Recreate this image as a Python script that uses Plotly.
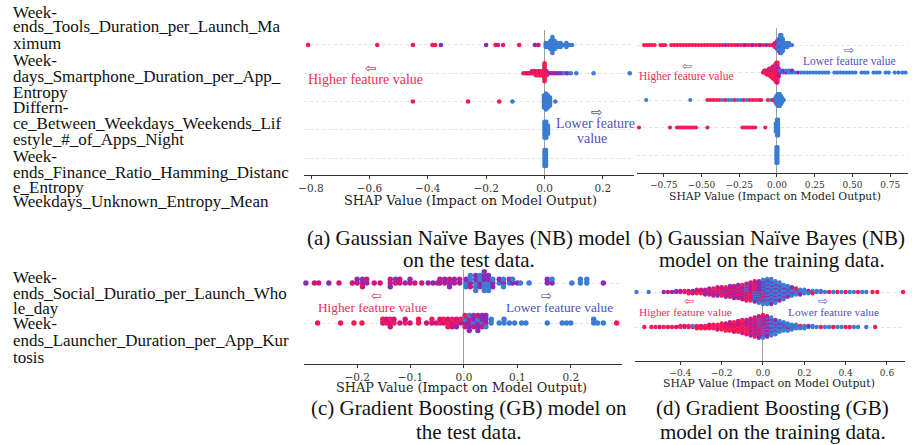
import plotly.graph_objects as go

W, H = 912, 445

# ---------------- colours (feature value: high=red ... low=blue) -------------
COLORS = {'r': '#f71b55', 'm': '#d0157f', 'p': '#8b2ab8', 'b': '#3b7cd4'}

SERIF = "Liberation Serif, Times New Roman, Times, serif"
AXSERIF = "DejaVu Serif, Bitstream Vera Serif, serif"
ARROWF = "DejaVu Sans, sans-serif"

# ---------------- label text ----------------
NB_LABEL_LINES = ["Week-", "ends_Tools_Duration_per_Launch_Ma", "ximum",
                  "Week-", "days_Smartphone_Duration_per_App_", "Entropy",
                  "Differn-", "ce_Between_Weekdays_Weekends_Lif", "estyle_#_of_Apps_Night",
                  "Week-", "ends_Finance_Ratio_Hamming_Distanc", "e_Entropy",
                  "Weekdays_Unknown_Entropy_Mean"]
GB_LABEL_LINES = ["Week-", "ends_Social_Duratio_per_Launch_Who", "le_day",
                  "Week-", "ends_Launcher_Duration_per_App_Kur", "tosis"]

CAPTIONS = [("(a) Gaussian Naïve Bayes (NB) model", "on the test data."),
            ("(b) Gaussian Naïve Bayes (NB)", "model on the training data."),
            ("(c) Gradient Boosting (GB) model on", "the test data."),
            ("(d) Gradient Boosting (GB)", "model on the training data.")]
XTITLE = "SHAP Value (Impact on Model Output)"

A_TICKS = [-0.8, -0.6, -0.4, -0.2, 0.0, 0.2]
B_TICKS = [-0.75, -0.5, -0.25, 0.0, 0.25, 0.5, 0.75]
C_TICKS = [-0.2, -0.1, 0.0, 0.1, 0.2]
D_TICKS = [-0.4, -0.2, 0.0, 0.2, 0.4, 0.6]

# ---------------- SHAP values: (shap value, number of points, colour pattern) --
# (a) NB, test data
A_TOOLS = [(-0.810,1,'r'),(-0.573,1,'r'),(-0.451,1,'r'),(-0.384,1,'r'),(-0.375,1,'r'),(-0.355,1,'p'),
           (-0.200,1,'p'),(-0.168,1,'r'),(-0.160,1,'m'),(-0.142,1,'r'),(-0.087,1,'r'),(-0.033,1,'p'),
           (-0.021,1,'m'),(0.004,3,'pbb'),(0.012,3,'b'),(0.020,5,'b'),(0.027,9,'b'),(0.035,5,'b'),
           (0.045,3,'b'),(0.055,3,'b'),(0.065,1,'b'),(0.075,3,'b'),(0.085,1,'b'),(0.094,1,'b')]
A_SMART = [(-0.072,1,'r'),(-0.064,1,'r'),(-0.057,1,'m'),(-0.050,1,'r'),(-0.043,2,'rm'),(-0.036,2,'r'),
           (-0.029,3,'rm'),(-0.022,3,'r'),(-0.015,3,'rm'),(-0.008,3,'r'),(0.000,10,'r'),(0.007,3,'rm'),
           (0.016,1,'p'),(0.024,1,'p'),(0.032,1,'m'),(0.040,1,'p'),(0.048,1,'p'),(0.058,1,'p'),
           (0.068,1,'b'),(0.078,1,'p'),(0.090,1,'b'),(0.109,1,'b'),(0.168,1,'b'),(0.292,1,'b')]
A_DIFF = [(-0.451,1,'r'),(-0.262,1,'r'),(-0.155,1,'r'),(-0.110,1,'b'),(-0.002,7,'b'),(0.005,9,'b'),
          (0.012,7,'b'),(0.019,5,'b'),(0.037,1,'b')]
A_FIN = [(0.000,9,'b'),(0.006,9,'b'),(0.012,5,'b')]
A_UNK = [(0.000,9,'b'),(0.005,9,'b')]

# (b) NB, training data
B_TOOLS = [(-0.880,1,'r'),(-0.862,1,'r'),(-0.845,1,'r'),(-0.828,1,'r'),(-0.810,1,'r'),
           (-0.772,1,'r'),(-0.755,1,'r'),(-0.740,1,'r'),
           (-0.700,1,'r'),(-0.680,1,'r'),(-0.660,1,'r'),(-0.640,1,'r'),(-0.620,1,'r'),(-0.600,1,'r'),
           (-0.580,1,'r'),(-0.560,1,'r'),(-0.540,1,'r'),(-0.520,1,'r'),(-0.500,1,'r'),(-0.480,1,'r'),
           (-0.460,1,'r'),(-0.440,1,'r'),(-0.420,1,'r'),(-0.400,1,'r'),(-0.380,1,'r'),(-0.360,1,'r'),
           (-0.340,1,'p'),(-0.320,1,'r'),(-0.300,1,'r'),(-0.280,1,'r'),(-0.260,1,'m'),(-0.240,1,'r'),
           (-0.220,1,'r'),(-0.210,1,'p'),(-0.190,1,'r'),(-0.170,1,'r'),(-0.160,1,'p'),(-0.140,1,'r'),
           (-0.120,1,'r'),(-0.110,1,'p'),(-0.090,1,'r'),(-0.070,1,'p'),(-0.050,1,'r'),(-0.030,1,'m'),
           (-0.015,3,'rmr'),(0.000,5,'mpb'),(0.010,7,'b'),(0.020,10,'bbp'),(0.030,10,'b'),(0.040,7,'b'),
           (0.050,3,'b'),(0.060,3,'b'),(0.070,3,'b'),(0.080,2,'b'),(0.090,1,'b'),(0.100,1,'b')]
B_SMART = [(-0.947,1,'b'),
           (-0.092,1,'m'),(-0.084,2,'rm'),(-0.076,2,'r'),(-0.068,3,'rm'),(-0.060,3,'r'),(-0.052,4,'rm'),
           (-0.044,5,'r'),(-0.036,5,'rm'),(-0.028,7,'r'),(-0.020,7,'rm'),(-0.012,9,'r'),(-0.004,11,'rrm'),
           (0.004,11,'rmr'),(0.012,5,'mp'),
           (0.020,2,'pb'),(0.040,2,'bp'),(0.060,2,'pb'),(0.080,2,'b'),(0.100,2,'bp'),(0.120,1,'b'),
           (0.140,1,'p'),(0.160,1,'b'),(0.180,1,'b'),(0.200,1,'b'),(0.220,1,'b'),(0.240,1,'b'),
           (0.260,1,'b'),(0.280,1,'b'),(0.300,1,'b'),(0.320,1,'b'),(0.340,1,'b'),(0.380,1,'b'),
           (0.400,1,'b'),(0.420,1,'b'),(0.440,1,'b'),(0.460,1,'b'),(0.480,1,'b'),(0.500,1,'b'),
           (0.520,1,'b'),(0.560,1,'b'),(0.580,1,'b'),(0.600,1,'b'),(0.640,1,'b'),(0.660,1,'b'),
           (0.680,1,'b'),(0.720,1,'b'),(0.740,1,'b'),(0.780,1,'b'),(0.805,1,'b'),(0.830,1,'b'),
           (0.852,1,'b'),(0.870,1,'b')]
B_DIFF = [(-0.866,1,'b'),(-0.574,1,'b'),
          (-0.460,1,'r'),(-0.440,1,'r'),(-0.420,1,'r'),(-0.400,1,'r'),(-0.380,1,'r'),(-0.360,1,'b'),
          (-0.340,1,'r'),(-0.320,1,'b'),(-0.300,1,'b'),(-0.280,1,'r'),(-0.260,1,'b'),(-0.240,1,'b'),
          (-0.220,1,'r'),(-0.200,1,'b'),(-0.180,1,'r'),(-0.160,1,'r'),(-0.140,1,'r'),(-0.120,1,'r'),
          (-0.105,1,'r'),(-0.060,1,'r'),(-0.040,1,'b'),(-0.026,1,'r'),
          (-0.012,3,'rb'),(-0.004,5,'b'),(0.004,7,'b'),(0.012,7,'b'),(0.020,7,'b'),(0.028,5,'b'),
          (0.036,3,'b'),(0.046,1,'b')]
B_FIN = [(-0.914,1,'r'),(-0.708,1,'r'),
         (-0.662,1,'r'),(-0.648,1,'r'),(-0.634,1,'r'),(-0.620,1,'r'),(-0.606,1,'r'),(-0.592,1,'r'),
         (-0.578,1,'r'),(-0.564,1,'r'),(-0.550,1,'r'),(-0.536,1,'r'),(-0.460,1,'r'),
         (-0.228,1,'r'),(-0.214,1,'r'),(-0.200,1,'r'),(-0.186,1,'r'),(-0.172,1,'r'),(-0.158,1,'r'),
         (-0.144,1,'r'),(-0.077,1,'r'),
         (-0.008,5,'b'),(0.000,9,'b'),(0.008,9,'b')]
B_UNK = [(-0.004,9,'b'),(0.004,9,'b')]

# (c) GB, test data
C_SOCIAL = [(-0.296,1,'p'),(-0.280,1,'m'),(-0.272,1,'m'),(-0.253,1,'p'),(-0.234,1,'m'),(-0.209,1,'m'),
            (-0.200,2,'mp'),(-0.190,3,'mpm'),(-0.182,2,'pm'),(-0.168,1,'m'),(-0.157,1,'m'),
            (-0.138,3,'mmp'),(-0.128,2,'mp'),(-0.120,2,'mm'),(-0.110,1,'p'),(-0.101,2,'mp'),
            (-0.092,1,'m'),(-0.079,1,'m'),(-0.067,1,'p'),(-0.058,1,'p'),(-0.050,1,'m'),(-0.045,2,'pm'),
            (-0.036,2,'mp'),(-0.027,3,'pmp'),(-0.018,2,'mp'),(-0.008,2,'pm'),(0.004,3,'bpb'),
            (0.012,4,'pbmb'),(0.022,5,'bpbp'),(0.030,4,'pb'),(0.038,6,'bpbp'),(0.046,5,'bp'),
            (0.054,3,'pb'),(0.066,2,'bp'),(0.074,3,'pbb'),(0.085,2,'bp'),(0.091,2,'pb'),(0.100,1,'p'),
            (0.106,1,'b'),(0.122,1,'b'),(0.156,2,'pp'),(0.165,2,'pb'),(0.202,1,'b'),(0.218,2,'bb'),
            (0.230,2,'bb'),(0.261,1,'p')]
C_LAUNCHER = [(-0.274,1,'r'),(-0.231,1,'r'),(-0.206,1,'r'),(-0.191,1,'r'),(-0.152,2,'mr'),(-0.145,2,'rm'),
              (-0.138,3,'mrm'),(-0.131,2,'rm'),(-0.120,1,'m'),(-0.110,2,'rm'),(-0.101,1,'m'),
              (-0.085,2,'rr'),(-0.070,1,'m'),(-0.060,2,'mr'),(-0.052,1,'m'),(-0.045,2,'rm'),
              (-0.038,2,'mr'),(-0.030,3,'rmr'),(-0.022,3,'mrm'),(-0.014,3,'rmp'),(-0.006,2,'mr'),
              (0.002,4,'pbmr'),(0.010,5,'pmpbp'),(0.018,4,'bpmp'),(0.026,5,'pbpm'),(0.034,4,'bpmp'),
              (0.041,4,'mpbp'),(0.051,2,'bb'),(0.066,1,'b'),(0.075,2,'bb'),(0.085,1,'b'),(0.095,1,'b'),
              (0.108,1,'b'),(0.116,1,'b'),(0.156,1,'b'),(0.184,1,'b'),(0.192,1,'b'),(0.200,1,'b'),
              (0.243,2,'bb'),(0.250,1,'b'),(0.261,1,'b'),(0.286,1,'r')]

# (d) GB, training data
D_SOCIAL = [(-0.612,1,'b'),(-0.553,1,'b'),
            (-0.480,1,'p'),(-0.460,1,'m'),(-0.440,1,'p'),(-0.420,2,'mp'),(-0.400,2,'pm'),(-0.380,2,'mr'),
            (-0.360,3,'pmr'),(-0.340,3,'mpm'),(-0.320,4,'pmrm'),(-0.300,4,'mprm'),(-0.280,5,'mpr'),
            (-0.260,6,'rmp'),(-0.240,7,'mpr'),(-0.220,8,'pmr'),(-0.200,8,'rmp'),(-0.180,9,'mrp'),
            (-0.160,10,'pmr'),(-0.140,11,'mpr'),(-0.120,12,'rmp'),(-0.100,13,'mpr'),(-0.080,15,'pmrb'),
            (-0.060,16,'mprm'),(-0.040,18,'pmbr'),(-0.020,19,'mpbp'),(0.000,21,'bpmb'),(0.020,22,'bpb'),
            (0.040,22,'bbp'),(0.060,19,'bpb'),(0.080,16,'bbp'),(0.100,13,'bpb'),(0.120,10,'bbp'),
            (0.140,8,'bpb'),(0.160,6,'bbr'),(0.180,5,'bpb'),(0.200,4,'bb'),(0.220,3,'bpb'),
            (0.240,3,'rbr'),(0.260,2,'bb'),(0.280,2,'rb'),(0.300,1,'b'),(0.320,1,'r'),(0.340,1,'b'),
            (0.360,1,'r'),(0.380,1,'b'),(0.400,1,'r'),(0.420,1,'b'),(0.440,1,'b'),(0.460,1,'r'),
            (0.480,1,'b'),(0.500,1,'b'),(0.530,1,'r'),(0.553,1,'r'),(0.678,1,'r')]
D_LAUNCHER = [(-0.574,1,'r'),(-0.540,1,'r'),(-0.520,1,'r'),(-0.500,1,'m'),(-0.480,1,'r'),(-0.460,1,'r'),
              (-0.440,1,'r'),(-0.420,1,'m'),(-0.400,2,'r'),(-0.380,2,'rm'),(-0.360,2,'r'),(-0.340,2,'rb'),
              (-0.320,3,'r'),(-0.300,3,'rmr'),(-0.280,3,'r'),(-0.260,4,'rm'),(-0.240,4,'r'),
              (-0.220,5,'rmr'),(-0.200,6,'r'),(-0.180,7,'rrm'),(-0.160,8,'rm'),(-0.140,9,'rrm'),
              (-0.120,10,'rm'),(-0.100,12,'rmr'),(-0.080,13,'rm'),(-0.060,15,'rmp'),(-0.040,17,'mrp'),
              (-0.020,19,'rmpb'),(0.000,20,'mpbr'),(0.020,18,'bpm'),(0.040,16,'bpb'),(0.060,13,'bbp'),
              (0.080,10,'bpb'),(0.100,8,'bbp'),(0.120,7,'bpb'),(0.140,5,'bbr'),(0.160,4,'bb'),
              (0.180,3,'br'),(0.200,3,'bb'),(0.220,2,'bp'),(0.240,2,'bb'),(0.260,1,'b'),(0.280,1,'r'),
              (0.300,1,'b'),(0.320,1,'b'),(0.340,1,'r'),(0.360,1,'b'),(0.380,1,'b'),(0.400,1,'r'),
              (0.420,1,'r'),(0.440,1,'b'),(0.460,1,'b'),(0.500,1,'b'),(0.543,1,'r')]

# ---------------- helpers ----------------
def fx(x):
    return x / W

def fy(y):
    return 1 - y / H

def swarm(entries, row, step):
    xs, ys, cs = [], [], []
    for x, n, pat in entries:
        for k in range(n):
            layer = (k + 1) // 2
            sign = 1 if k % 2 == 1 else -1
            xs.append(x)
            ys.append(row + sign * layer * step)
            cs.append(COLORS[pat[k % len(pat)]])
    return xs, ys, cs

PANELS = {
    'a': dict(xd=(300, 632), yd=(30, 175), xr=(-0.824, 0.306), yr=(0.4, 5.53), ppu=28.3,
              ticks=A_TICKS, fmt='.1f', tfs=10.5, step=2.0, ms=4.6,
              rows=[(A_TOOLS, 5), (A_SMART, 4), (A_DIFF, 3), (A_FIN, 2), (A_UNK, 1)], n=5),
    'b': dict(xd=(635, 908), yd=(28, 173), xr=(-0.928, 0.868), yr=(0.345, 5.62), ppu=27.5,
              ticks=B_TICKS, fmt='.2f', tfs=9, step=2.0, ms=4.2,
              rows=[(B_TOOLS, 5), (B_SMART, 4), (B_DIFF, 3), (B_FIN, 2), (B_UNK, 1)], n=5),
    'c': dict(xd=(300, 620), yd=(270, 364), xr=(-0.2995, 0.2958), yr=(-0.025, 2.325), ppu=40,
              ticks=C_TICKS, fmt='.1f', tfs=10.5, step=3.8, ms=5.4,
              rows=[(C_SOCIAL, 2), (C_LAUNCHER, 1)], n=2),
    'd': dict(xd=(633, 905), yd=(277, 361), xr=(-0.620, 0.6875), yr=(0.029, 2.43), ppu=35,
              ticks=D_TICKS, fmt='.1f', tfs=9, step=1.2, ms=4.4,
              rows=[(D_SOCIAL, 2), (D_LAUNCHER, 1)], n=2),
}

fig = go.Figure()
layout = dict(width=W, height=H, margin=dict(l=0, r=0, t=0, b=0), showlegend=False,
              paper_bgcolor='white', plot_bgcolor='white')

for i, key in enumerate(['a', 'b', 'c', 'd']):
    p = PANELS[key]
    sfx = '' if i == 0 else str(i + 1)
    xa, ya = 'x' + sfx, 'y' + sfx
    layout['xaxis' + sfx] = dict(
        domain=[fx(p['xd'][0]), fx(p['xd'][1])], range=list(p['xr']), anchor=ya,
        tickvals=p['ticks'], tickformat=p['fmt'], showgrid=False,
        zeroline=True, zerolinecolor='#a0a0a0', zerolinewidth=1,
        showline=True, linecolor='#333333', linewidth=1,
        ticks='outside', ticklen=3, tickwidth=1, tickcolor='#333333',
        tickfont=dict(family=AXSERIF, size=p['tfs'], color='#333333'), fixedrange=True)
    layout['yaxis' + sfx] = dict(
        domain=[fy(p['yd'][1]), fy(p['yd'][0])], range=list(p['yr']), anchor=xa,
        tickvals=list(range(1, p['n'] + 1)), showticklabels=False, ticks='',
        showgrid=True, gridcolor='#e2e2e2', griddash='dot', gridwidth=1,
        zeroline=False, showline=False, fixedrange=True)
    for entries, row in p['rows']:
        xs, ys, cs = swarm(entries, row, p['step'] / p['ppu'])
        fig.add_trace(go.Scatter(x=xs, y=ys, mode='markers', xaxis=xa, yaxis=ya,
                                 marker=dict(size=p['ms'], color=cs, line=dict(width=0)),
                                 hoverinfo='skip', cliponaxis=False))

ann = []

def text(x, y, s, size, color='#111111', family=SERIF, xanchor='left'):
    ann.append(dict(x=fx(x), y=fy(y), xref='paper', yref='paper', text=s, showarrow=False,
                    xanchor=xanchor, yanchor='middle',
                    font=dict(family=family, size=size, color=color)))

NB_LINE_Y = [12, 27, 43, 60, 76, 92, 107, 123, 139, 156, 172, 187, 202]
for s, y in zip(NB_LABEL_LINES, NB_LINE_Y):
    text(5, y, s, 17)
GB_LINE_Y = [277, 293, 308, 323, 340, 357]
for s, y in zip(GB_LABEL_LINES, GB_LINE_Y):
    text(5, y, s, 17)

CAP_POS = [(466, 238, 260), (771, 238, 260), (466, 408, 432), (772, 408, 432)]
for (l1, l2), (cx, y1, y2) in zip(CAPTIONS, CAP_POS):
    text(cx, y1, l1, 21, xanchor='center')
    text(cx, y2, l2, 21, xanchor='center')

TITLE_POS = [(468, 200, 12.9), (774, 196, 10.8), (459, 387, 12.8), (768, 383, 10.8)]
for cx, y, s in TITLE_POS:
    text(cx, y, XTITLE, s, color='#222222', family=AXSERIF, xanchor='center')

RED_T, BLUE_T = '#ef2d56', '#4f52c0'
HIGH, LOW = "Higher feature value", "Lower feature value"
# (a)
text(367, 68, "⇦", 14, RED_T, ARROWF, 'center')
text(362, 79, HIGH, 14, RED_T, xanchor='center')
text(595, 112, "⇨", 14, BLUE_T, ARROWF, 'center')
text(593, 124, "Lower feature", 14, BLUE_T, xanchor='center')
text(590, 138, "value", 14, BLUE_T, xanchor='center')
# (b)
text(686, 66, "⇦", 12, RED_T, ARROWF, 'center')
text(685, 77, HIGH, 11.5, RED_T, xanchor='center')
text(849, 50, "⇨", 12, BLUE_T, ARROWF, 'center')
text(849, 61, LOW, 11.5, BLUE_T, xanchor='center')
# (c)
text(373, 295, "⇦", 13, RED_T, ARROWF, 'center')
text(369, 307, HIGH, 13.3, RED_T, xanchor='center')
text(544, 295, "⇨", 13, BLUE_T, ARROWF, 'center')
text(557, 307, LOW, 13.3, BLUE_T, xanchor='center')
# (d)
text(688, 301, "⇦", 12, RED_T, ARROWF, 'center')
text(684, 312, HIGH, 11.3, RED_T, xanchor='center')
text(822, 301, "⇨", 12, BLUE_T, ARROWF, 'center')
text(833, 312, LOW, 11.3, BLUE_T, xanchor='center')

layout['annotations'] = ann
fig.update_layout(**layout)
fig.write_html("out.html")
